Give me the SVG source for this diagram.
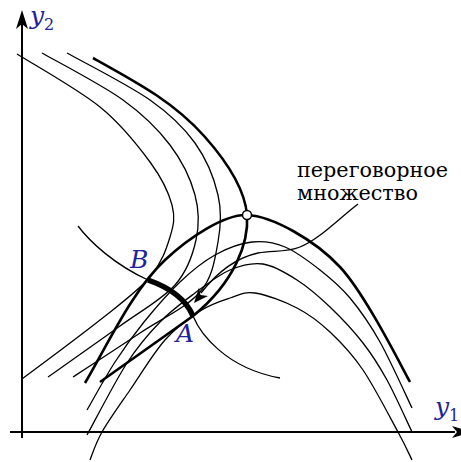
<svg xmlns="http://www.w3.org/2000/svg" width="461" height="462" viewBox="0 0 461 462">
<style>
.thin{fill:none;stroke:#000;stroke-width:1.3}
.thick{fill:none;stroke:#000;stroke-width:2.6}
.bold{fill:none;stroke:#000;stroke-width:5.5}
.axis{fill:none;stroke:#000;stroke-width:2}
.lbl{font-family:'DejaVu Serif',serif;font-style:italic;fill:#22229a}
.sub{font-family:'DejaVu Serif',serif;fill:#22229a}
.txt{font-family:'DejaVu Serif',serif;fill:#000;font-size:20px}
</style>
<rect width="461" height="462" fill="#fff"/>
<g id="axes">
<path class="axis" d="M22,438 L22,22"/>
<path d="M22,10 L28,29 L22,24 L16,29 Z" fill="#000"/>
<path class="axis" d="M10,432 L455,432"/>
<path d="M472,432 L452,438 L457,432 L452,426 Z" fill="#000"/>
</g>
<g id="player2-curves">
<path class="thin" d="M17,54 C30.8,62.8 77.8,89 100,107 C122.2,125 138,145.7 150,162 C162,178.3 168.7,192.5 172,205 C175.3,217.5 173.7,225 170,237 C166.3,249 161.7,263.2 150,277 C138.3,290.8 121.3,303 100,320 C78.7,337 35,369.2 22,379"/>
<path class="thin" d="M42,53 C55.5,60.8 101.7,84.7 123,100 C144.3,115.3 158,129.2 170,145 C182,160.8 190.7,179.2 195,195 C199.3,210.8 199.3,225 196,240 C192.7,255 187.7,270.7 175,285 C162.3,299.3 141.2,310.7 120,326 C98.8,341.3 60,368.5 48,377"/>
<path class="thin" d="M67,53 C80.8,60.8 128.7,85 150,100 C171.3,115 183.7,127.2 195,143 C206.3,158.8 214.2,178.5 218,195 C221.8,211.5 221,225.8 218,242 C215,258.2 213,276.8 200,292 C187,307.2 161.2,318.8 140,333 C118.8,347.2 84.2,369.7 73,377"/>
<path class="thick" d="M93,58 C140,84 175,103 205,137 C228,163 245,190 247,215 C249,242 235,282 193,316 L100,382"/>
</g>
<g id="player1-curves">
<path class="thin" d="M87,410 C91.7,402 105.5,376.7 115,362 C124.5,347.3 133.2,335.3 144,322 C154.8,308.7 168.2,293.2 180,282 C191.8,270.8 203,261.7 215,255 C227,248.3 240.3,243.3 252,242 C263.7,240.7 273.7,242.3 285,247 C296.3,251.7 309.2,261.5 320,270 C330.8,278.5 340,286 350,298 C360,310 369.7,323.7 380,342 C390.3,360.3 406.7,397 412,408"/>
<path class="thin" d="M87,435 C93.7,423 114.8,381.8 127,363 C139.2,344.2 148.7,333.7 160,322 C171.3,310.3 183.3,301.7 195,293 C206.7,284.3 218.7,274.8 230,270 C241.3,265.2 251.8,262.3 263,264 C274.2,265.7 285.8,272.8 297,280 C308.2,287.2 319,296.5 330,307 C341,317.5 353.5,330.8 363,343 C372.5,355.2 378.8,365.2 387,380 C395.2,394.8 407.8,423.3 412,432"/>
<path class="thin" d="M90,460 C92,455.3 95.3,443.7 102,432 C108.7,420.3 119.5,405.3 130,390 C140.5,374.7 153.3,353.2 165,340 C176.7,326.8 189.2,318 200,311 C210.8,304 220.8,301 230,298 C239.2,295 243.8,291.3 255,293 C266.2,294.7 284.5,301.5 297,308 C309.5,314.5 319,321.7 330,332 C341,342.3 351.7,353.3 363,370 C374.3,386.7 389.8,417 398,432 C406.2,447 409.7,455.3 412,460"/>
<path class="thick" d="M85,383 C110,340 133,290 165,260 C190,236.6 225,214 247,215 C272,216 315,240 340,267 C365,294 398,360 410,382"/>
</g>
<g id="contract-curve">
<path class="thin" d="M78,226 C90,242 115,265 148,280 M193,316 C200,333 225,368 280,378"/>
<path class="bold" d="M148,280 C168,287 185,297 193,316"/>
</g>
<g id="node-ideal">
<circle cx="247" cy="215" r="4.5" fill="#fff" stroke="#000" stroke-width="1.5"/>
</g>
<g id="connectors">
<path class="thin" d="M358,204 C335,222 318,240 300,247 C285,253 272,250 258,253 C235,258 215,275 201,293"/>
<path d="M194,303 L208,296 L200.5,295 L199,287.5 Z" fill="#000"/>
</g>
<g id="labels">
<text class="lbl" x="30" y="24" font-size="25">y</text>
<text class="sub" x="44" y="30" font-size="16">2</text>
<text class="lbl" x="435" y="415" font-size="25">y</text>
<text class="sub" x="449" y="421" font-size="16">1</text>
<text class="lbl" x="130" y="268" font-size="25">B</text>
<text class="lbl" x="176" y="342" font-size="25">A</text>
<text class="txt" x="297" y="177" textLength="151" lengthAdjust="spacingAndGlyphs">переговорное</text>
<text class="txt" x="297" y="200" textLength="121" lengthAdjust="spacingAndGlyphs">множество</text>
</g>
</svg>
